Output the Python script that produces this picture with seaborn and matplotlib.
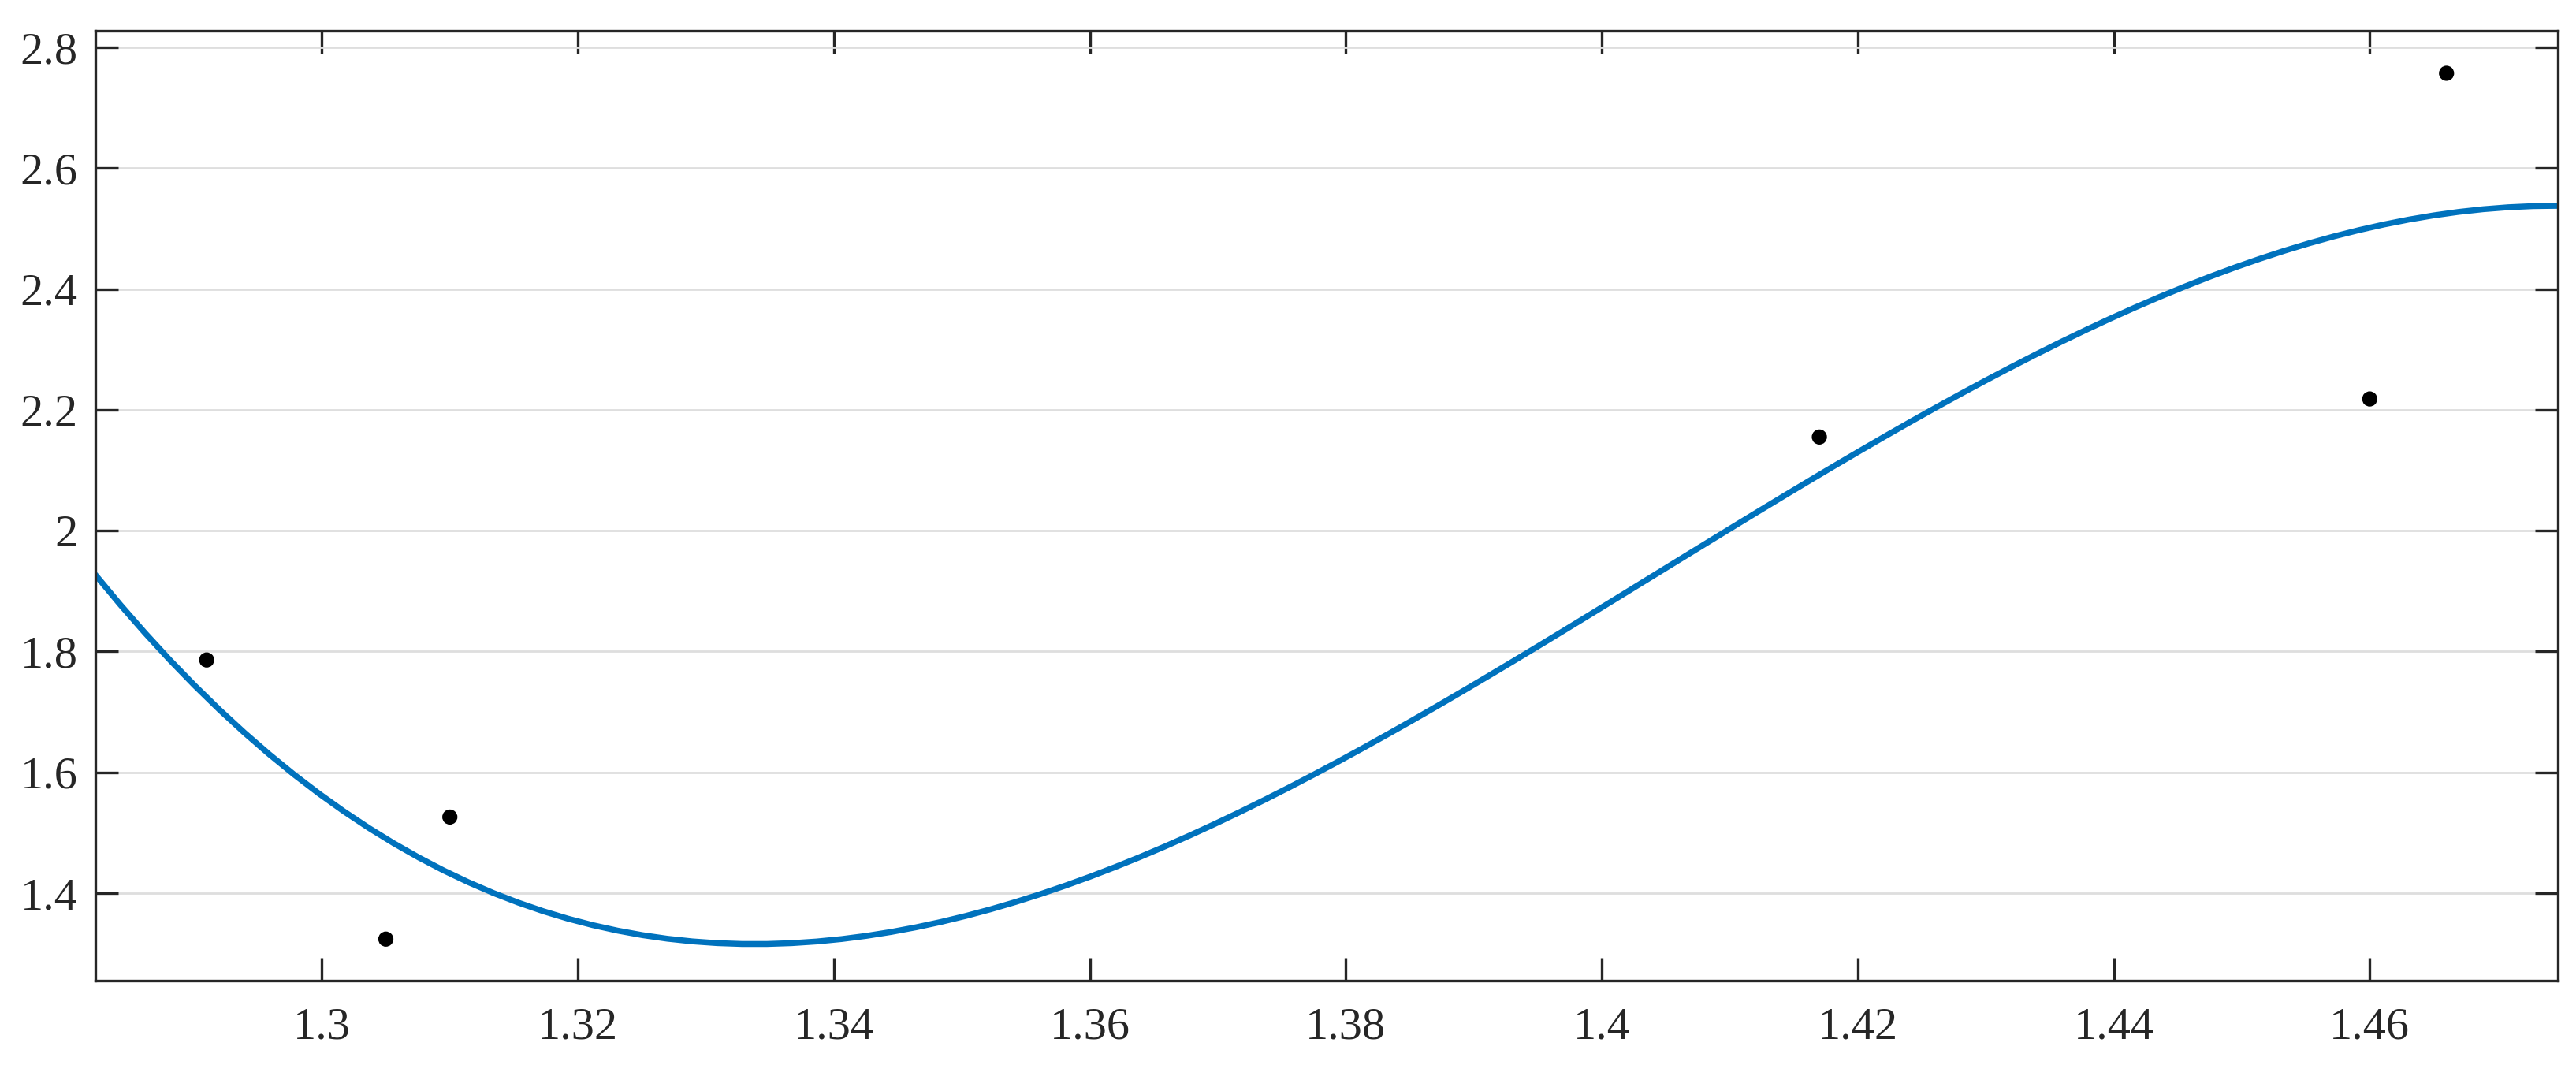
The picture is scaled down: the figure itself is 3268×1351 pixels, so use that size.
import matplotlib
matplotlib.use("Agg")
import matplotlib.pyplot as plt
import numpy as np
import pandas as pd
import seaborn as sns
from matplotlib.ticker import FuncFormatter

x_vals = [1.291, 1.305, 1.310, 1.417, 1.460, 1.466]
y_vals = [1.786, 1.324, 1.526, 2.155, 2.218, 2.757]

x_ticks = [1.30, 1.32, 1.34, 1.36, 1.38, 1.40, 1.42, 1.44, 1.46]
y_ticks = [1.4, 1.6, 1.8, 2.0, 2.2, 2.4, 2.6, 2.8]

df = pd.DataFrame({"x": x_vals, "y": y_vals})

sns.set_style("white")
plt.rcParams.update({
    "font.family": ["Liberation Serif", "DejaVu Serif"],
    "xtick.direction": "in", "ytick.direction": "in",
    "xtick.bottom": True, "xtick.top": True,
    "ytick.left": True, "ytick.right": True,
    "xtick.major.size": 10.5, "ytick.major.size": 10.5,
    "xtick.major.width": 1.2, "ytick.major.width": 1.2,
    "xtick.color": "#262626", "ytick.color": "#262626",
    "axes.edgecolor": "#262626", "axes.linewidth": 1.2,
})

fig = plt.figure(figsize=(16.34, 6.755), dpi=200)
ax = fig.add_axes([0.0370, 0.0792, 0.99296 - 0.0370, 0.97113 - 0.0792])
# limits first: regplot with truncate=False spans the current x range
ax.set_xlim(1.2823, 1.4747)
ax.set_ylim(1.2552, 2.8274)

# cubic fit through the points, extended over the whole x range
sns.regplot(data=df, x="x", y="y", order=3, ci=None, truncate=False,
            scatter=False, line_kws={"color": "#0072BD", "lw": 2.7}, ax=ax)
sns.scatterplot(data=df, x="x", y="y", color="black", s=48,
                edgecolor="none", zorder=3, ax=ax)

ax.set_xlim(1.2823, 1.4747)
ax.set_ylim(1.2552, 2.8274)
ax.set_xticks(x_ticks)
ax.set_yticks(y_ticks)
ax.xaxis.set_major_formatter(FuncFormatter(lambda v, p: f"{v:g}"))
ax.yaxis.set_major_formatter(FuncFormatter(lambda v, p: f"{v:g}"))

# horizontal grid only, kept under the curve and ticks
ax.grid(axis="y", color="#dedede", lw=1.0)
ax.grid(axis="x", visible=False)
for gl in ax.get_ygridlines():
    gl.set_zorder(0.5)

for sp in ax.spines.values():
    sp.set_visible(True)

ax.tick_params(direction="in", bottom=True, left=True, top=True, right=True,
               length=10.5, width=1.2, color="#262626",
               labelsize=21, labelcolor="#262626")
ax.tick_params(axis="y", pad=8)
ax.tick_params(axis="x", pad=12)
ax.set_xlabel("")
ax.set_ylabel("")

fig.savefig("out.png", dpi=200)
